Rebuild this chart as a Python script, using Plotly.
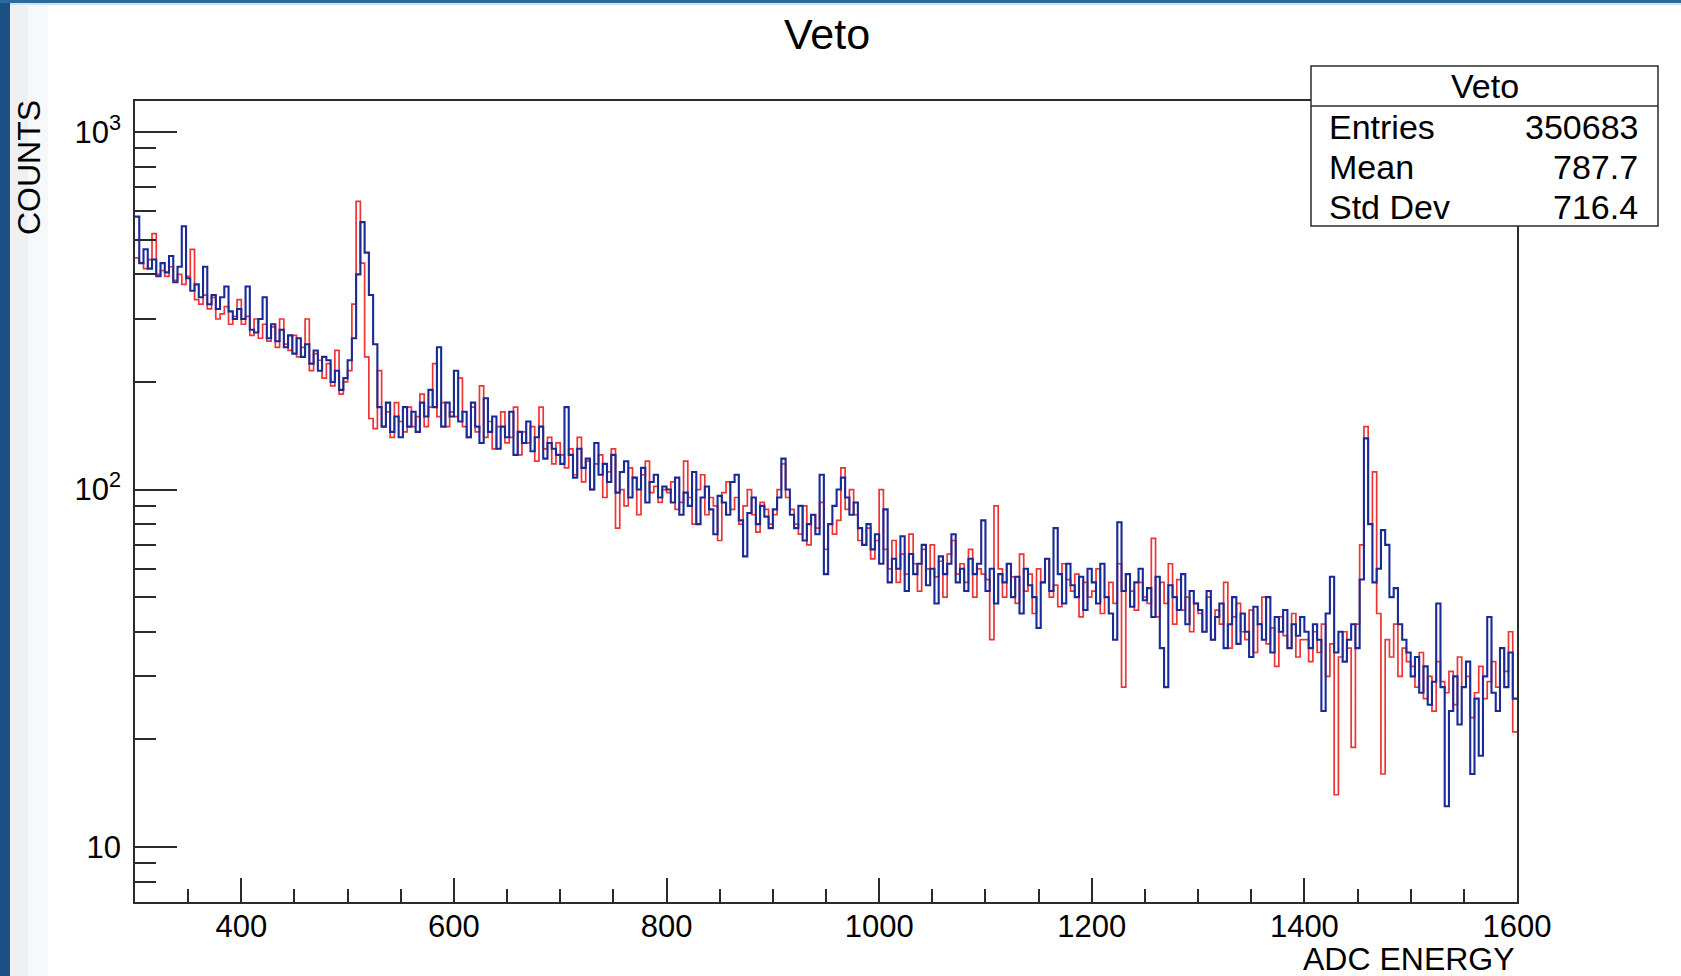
import plotly.graph_objects as go

# ---------------- data ----------------
BIN_START = 300
BIN_WIDTH = 4

red_counts = (
    [445, 430, 415, 440, 520, 400, 410, 395, 420, 385, 400, 375, 395, 470, 340, 330, 350, 320, 345, 300, 310, 325, 290, 305, 340]  # 300-396
    + [290, 305, 270, 300, 265, 290, 260, 285, 250, 300, 255, 245, 270, 235, 250, 300, 215, 240, 230, 205, 225, 195, 245, 185, 200]  # 400-496
    + [215, 330, 640, 430, 235, 158, 148, 215, 150, 165, 140, 175, 155, 145, 170, 150, 160, 185, 150, 170, 225, 160, 175, 150, 165]  # 500-596
    + [160, 205, 150, 140, 170, 145, 195, 140, 155, 130, 150, 165, 135, 140, 170, 125, 145, 135, 150, 120, 170, 130, 140, 118, 135]  # 600-696
    + [125, 115, 130, 110, 140, 105, 120, 100, 118, 125, 95, 112, 130, 78, 100, 90, 115, 108, 85, 110, 120, 98, 102, 92, 100]     # 700-796
    + [98, 105, 88, 92, 120, 95, 80, 100, 110, 85, 95, 90, 72, 98, 105, 88, 95, 80, 90, 100, 85, 76, 92, 88, 80]                  # 800-896
    + [85, 100, 118, 95, 88, 80, 75, 90, 70, 85, 78, 92, 68, 80, 75, 82, 115, 88, 100, 85, 72, 70, 78, 64, 72]                    # 900-996
    + [100, 68, 60, 72, 55, 66, 58, 75, 62, 52, 68, 60, 70, 57, 63, 50, 66, 72, 58, 62, 55, 68, 50, 60, 58]                       # 1000-1096
    + [56, 38, 90, 60, 50, 62, 57, 48, 66, 52, 58, 45, 60, 55, 64, 50, 54, 47, 62, 56, 52, 58, 44, 55, 50]                        # 1100-1196
    + [52, 60, 45, 50, 55, 48, 62, 28, 58, 52, 46, 55, 50, 48, 73, 44, 55, 48, 62, 42, 56, 46, 50, 40, 48]                        # 1200-1296
    + [45, 40, 50, 38, 46, 42, 55, 36, 44, 48, 40, 38, 46, 35, 42, 50, 37, 41, 32, 44, 39, 36, 45, 34, 38]                        # 1300-1396
    + [38, 33, 40, 35, 42, 30, 37, 14, 34, 40, 36, 19, 42, 70, 150, 80, 112, 45, 16, 38, 34, 42, 30, 36, 33]                      # 1400-1496
    + [32, 28, 35, 26, 30, 24, 33, 29, 27, 31, 25, 34, 28, 30, 23, 27, 32, 26, 29, 33, 28, 36, 31, 40, 21]                        # 1500-1596
)

blue_counts = (
    [580, 430, 470, 415, 440, 395, 430, 405, 450, 380, 420, 545, 390, 360, 375, 345, 420, 330, 350, 320, 345, 370, 315, 300, 320]  # 300-396
    + [300, 370, 280, 275, 300, 345, 265, 290, 260, 280, 250, 270, 240, 265, 235, 255, 225, 245, 215, 235, 230, 200, 215, 190, 205]  # 400-496
    + [230, 265, 400, 560, 460, 350, 255, 170, 150, 175, 145, 160, 140, 170, 150, 165, 145, 175, 160, 190, 170, 250, 150, 175, 160]  # 500-596
    + [215, 155, 165, 140, 175, 150, 135, 180, 145, 160, 130, 150, 140, 165, 125, 145, 135, 155, 128, 140, 150, 122, 135, 130, 125]  # 600-696
    + [118, 170, 125, 108, 130, 115, 122, 100, 135, 110, 118, 105, 125, 98, 112, 120, 95, 108, 100, 115, 92, 105, 110, 95, 102]     # 700-796
    + [100, 92, 108, 85, 98, 90, 112, 80, 95, 102, 88, 75, 96, 92, 85, 105, 110, 82, 65, 86, 95, 80, 90, 84, 78]                    # 800-896
    + [88, 95, 122, 100, 85, 78, 90, 72, 80, 85, 75, 110, 58, 80, 90, 100, 108, 95, 85, 92, 78, 70, 80, 68, 75]                     # 900-996
    + [62, 88, 55, 64, 60, 74, 52, 66, 58, 62, 70, 54, 60, 48, 65, 58, 62, 75, 55, 60, 52, 64, 58, 62, 82]                          # 1000-1096
    + [52, 60, 48, 58, 55, 62, 50, 57, 45, 60, 54, 50, 41, 55, 64, 52, 78, 58, 48, 62, 54, 50, 57, 46, 60]                          # 1100-1196
    + [55, 48, 62, 50, 45, 38, 81, 52, 58, 47, 55, 60, 49, 53, 44, 57, 36, 28, 54, 50, 46, 58, 42, 52, 48]                          # 1200-1296
    + [46, 40, 52, 38, 44, 48, 36, 42, 50, 37, 45, 40, 34, 47, 42, 38, 50, 35, 44, 40, 46, 36, 42, 39, 44]                          # 1300-1396
    + [40, 36, 42, 38, 24, 45, 57, 35, 40, 33, 38, 42, 36, 56, 139, 80, 55, 60, 77, 70, 50, 53, 42, 38, 35]                         # 1400-1496
    + [30, 34, 27, 32, 25, 29, 48, 28, 13, 24, 30, 22, 28, 33, 16, 26, 18, 30, 44, 27, 24, 36, 28, 35, 26]                          # 1500-1596
)

x_tick_values = [400, 600, 800, 1000, 1200, 1400, 1600]
x_tick_labels = ["400", "600", "800", "1000", "1200", "1400", "1600"]
x_minor_values = [350, 450, 500, 550, 650, 700, 750, 850, 900, 950, 1050, 1100, 1150,
                  1250, 1300, 1350, 1450, 1500, 1550]
y_tick_values = [10, 100, 1000]
y_tick_labels = ["10", "10<sup>2</sup>", "10<sup>3</sup>"]
y_minor_values = [8, 9, 20, 30, 40, 50, 60, 70, 80, 90, 200, 300, 400, 500, 600, 700, 800, 900]

stats_title = "Veto"
stats_rows = [("Entries", "350683"), ("Mean", "787.7"), ("Std Dev", "716.4")]

# ---------------- figure ----------------
W, H = 1681, 976
FONT = "Liberation Sans, Arial, Helvetica, sans-serif"


def px(x):
    return x / W


def py(y):
    return 1 - y / H


def step_xy(counts):
    edges = [BIN_START + BIN_WIDTH * i for i in range(len(counts) + 1)]
    return edges, list(counts) + [counts[-1]]


fig = go.Figure()
for counts, color, width in [(red_counts, "#ee3535", 1.7), (blue_counts, "#1a2a96", 2.1)]:
    xs, ys = step_xy(counts)
    fig.add_trace(go.Scatter(x=xs, y=ys, mode="lines", line=dict(color=color, width=width, shape="hv"),
                             showlegend=False, hoverinfo="skip"))

axis_color = "#2b2b2b"
fig.update_layout(
    width=W, height=H, autosize=False,
    margin=dict(l=0, r=0, t=0, b=0, pad=0, autoexpand=False),
    paper_bgcolor="white", plot_bgcolor="white",
    showlegend=False,
    font=dict(family=FONT, color="black"),
    xaxis=dict(
        domain=[px(135), px(1517)], range=[300, 1600],
        showgrid=False, zeroline=False, automargin=False,
        showline=True, linecolor=axis_color, linewidth=1.5, mirror=True,
        ticks="inside", ticklen=24, tickwidth=1.5, tickcolor=axis_color,
        tickmode="array", tickvals=x_tick_values, ticktext=x_tick_labels,
        tickfont=dict(size=31, family=FONT, color="black"), ticklabelstandoff=-4,
        minor=dict(ticks="inside", ticklen=13, tickwidth=1.5, tickcolor=axis_color,
                   tickmode="array", tickvals=x_minor_values, showgrid=False),
    ),
    yaxis=dict(
        domain=[py(902), py(101)], type="log", range=[0.846, 3.087],
        showgrid=False, zeroline=False, automargin=False,
        showline=True, linecolor=axis_color, linewidth=1.5, mirror=True,
        ticks="inside", ticklen=42, tickwidth=1.5, tickcolor=axis_color,
        tickmode="array", tickvals=y_tick_values, ticktext=y_tick_labels,
        tickfont=dict(size=31, family=FONT, color="black"), ticklabelstandoff=6,
        minor=dict(ticks="inside", ticklen=21, tickwidth=1.5, tickcolor=axis_color,
                   tickmode="array", tickvals=y_minor_values, showgrid=False),
    ),
)

shapes = [
    # slide background strips
    dict(type="rect", xref="paper", yref="paper", x0=0, x1=px(10), y0=0, y1=1,
         fillcolor="#1b4f86", line=dict(width=0), layer="below"),
    dict(type="rect", xref="paper", yref="paper", x0=px(10), x1=px(28), y0=0, y1=py(4),
         fillcolor="#eef1f4", line=dict(width=0), layer="below"),
    dict(type="rect", xref="paper", yref="paper", x0=px(28), x1=px(48), y0=0, y1=py(4),
         fillcolor="#f7f8f9", line=dict(width=0), layer="below"),
    dict(type="rect", xref="paper", yref="paper", x0=0, x1=1, y0=py(3), y1=1,
         fillcolor="#2a6a9c", line=dict(width=0), layer="below"),
    dict(type="rect", xref="paper", yref="paper", x0=px(10), x1=1, y0=py(5), y1=py(3),
         fillcolor="#cfe1ee", line=dict(width=0), layer="below"),
    # stats box
    dict(type="rect", xref="paper", yref="paper", x0=px(1311), x1=px(1658), y0=py(226), y1=py(66),
         fillcolor="white", line=dict(color=axis_color, width=1.5), layer="above"),
    dict(type="line", xref="paper", yref="paper", x0=px(1311), x1=px(1658), y0=py(106), y1=py(106),
         line=dict(color=axis_color, width=1.5), layer="above"),
]
fig.update_layout(shapes=shapes)

annotations = [
    dict(text="Veto", x=px(827), y=py(34), xref="paper", yref="paper", showarrow=False,
         xanchor="center", yanchor="middle", font=dict(size=43, family=FONT, color="black")),
    dict(text="ADC ENERGY", x=px(1517), y=py(959), xref="paper", yref="paper", showarrow=False,
         xanchor="right", yanchor="middle", font=dict(size=32, family=FONT, color="black")),
    dict(text="COUNTS", x=px(29), y=py(168), xref="paper", yref="paper", showarrow=False,
         textangle=-90, xanchor="center", yanchor="middle", font=dict(size=32, family=FONT, color="black")),
    dict(text=stats_title, x=px(1485), y=py(86), xref="paper", yref="paper", showarrow=False,
         xanchor="center", yanchor="middle", font=dict(size=34, family=FONT, color="black")),
]
row_y = [127, 167, 207]
for (label, value), yy in zip(stats_rows, row_y):
    annotations.append(dict(text=label, x=px(1327), y=py(yy), xref="paper", yref="paper", showarrow=False,
                            xanchor="left", yanchor="middle", font=dict(size=34, family=FONT, color="black")))
    annotations.append(dict(text=value, x=px(1640), y=py(yy), xref="paper", yref="paper", showarrow=False,
                            xanchor="right", yanchor="middle", font=dict(size=34, family=FONT, color="black")))
fig.update_layout(annotations=annotations)

fig.write_html("out.html", config={"displayModeBar": False},
               post_script="document.body.style.margin='0';document.body.style.overflow='hidden';")
